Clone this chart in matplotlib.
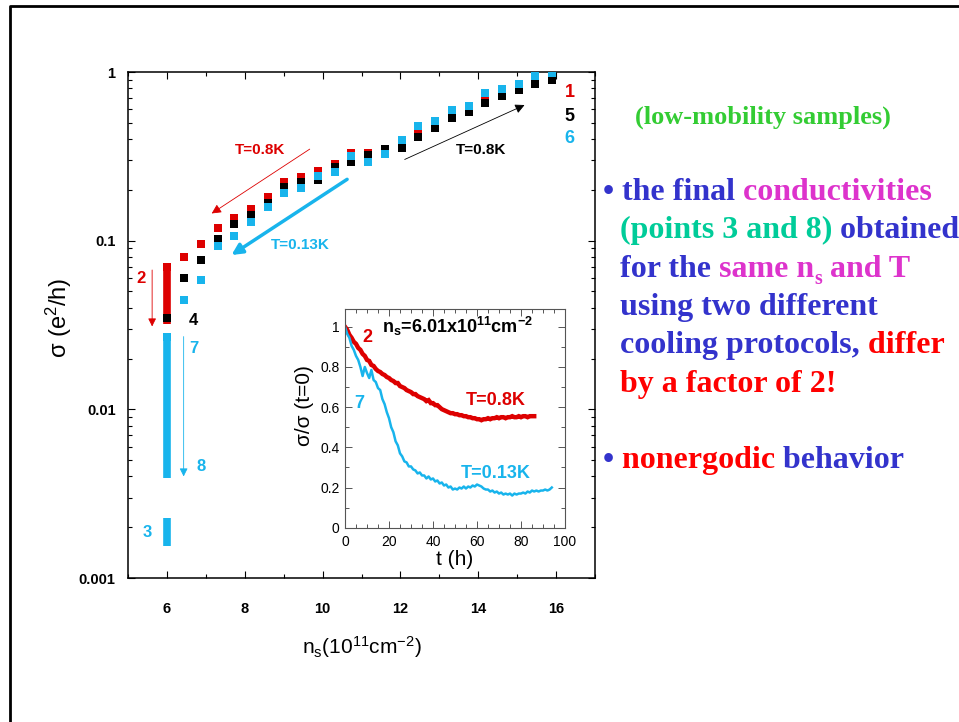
import matplotlib
matplotlib.use('Agg')
import matplotlib.pyplot as plt
from matplotlib.ticker import MultipleLocator, LogLocator, NullFormatter, FixedLocator, FixedFormatter

plt.rcParams['font.family'] = 'Liberation Sans'
plt.rcParams['mathtext.fontset'] = 'custom'
plt.rcParams['mathtext.rm'] = 'Liberation Sans'
plt.rcParams['mathtext.it'] = 'Liberation Sans:italic'
plt.rcParams['mathtext.bf'] = 'Liberation Sans:bold'

W, H = 959, 722

# main panel: sigma vs n_s for the three sweeps
ns = [6.01, 6.44, 6.87, 7.30, 7.73, 8.16, 8.59, 9.02, 9.45, 9.88, 10.31, 10.74,
      11.17, 11.60, 12.03, 12.46, 12.89, 13.32, 13.75, 14.18, 14.61, 15.04, 15.47, 15.90]
sigma_1 = [0.070, 0.080, 0.096, 0.119, 0.136, 0.155, 0.181, 0.222, 0.239, 0.260, 0.284, 0.330,
           0.330, 0.350, 0.370, 0.443, 0.490, 0.556, 0.600, 0.692, 0.750, 0.810, 0.900, 0.950]
sigma_5 = [0.035, 0.0598, 0.0768, 0.103, 0.1255, 0.142, 0.168, 0.207, 0.224, 0.229, 0.275, 0.294,
           0.322, 0.350, 0.356, 0.414, 0.468, 0.531, 0.582, 0.658, 0.724, 0.782, 0.849, 0.897]
sigma_6 = [0.027, 0.0445, 0.0585, 0.093, 0.1066, 0.129, 0.158, 0.193, 0.206, 0.243, 0.254, 0.318,
           0.291, 0.325, 0.395, 0.478, 0.512, 0.595, 0.629, 0.754, 0.789, 0.849, 0.947, 0.990]

# relaxation at n_s = 6.01
bar_ns = 6.01
bar_2_4 = [0.070, 0.032]
bar_7_8 = [0.027, 0.0039]
bar_3 = [0.00227, 0.00155]

# inset: sigma/sigma(t=0) vs t (h)
ratio_08K = [1.00, 0.985, 0.96, 0.945, 0.925, 0.915, 0.895, 0.885, 0.865, 0.855, 0.835, 0.83,
             0.81, 0.805, 0.79, 0.78, 0.775, 0.765, 0.76, 0.75, 0.745, 0.735, 0.73, 0.72, 0.72,
             0.705, 0.70, 0.695, 0.685, 0.68, 0.675, 0.665, 0.665, 0.655, 0.65, 0.645, 0.64,
             0.63, 0.635, 0.62, 0.62, 0.61, 0.61, 0.60, 0.59, 0.585, 0.58, 0.575, 0.57, 0.57,
             0.565, 0.565, 0.56, 0.56, 0.555, 0.555, 0.55, 0.55, 0.545, 0.545, 0.54, 0.54, 0.535,
             0.54, 0.54, 0.545, 0.54, 0.545, 0.545, 0.55, 0.545, 0.55, 0.55, 0.545, 0.55, 0.55,
             0.555, 0.55, 0.55, 0.555, 0.55, 0.555, 0.555, 0.55, 0.555, 0.555, 0.555]
ratio_013K = [1.00, 0.965, 0.945, 0.905, 0.885, 0.855, 0.835, 0.80, 0.755, 0.80, 0.77, 0.745,
              0.785, 0.735, 0.725, 0.695, 0.685, 0.64, 0.615, 0.575, 0.545, 0.50, 0.475, 0.43,
              0.41, 0.37, 0.355, 0.33, 0.325, 0.305, 0.305, 0.29, 0.285, 0.27, 0.275, 0.26, 0.26,
              0.245, 0.255, 0.24, 0.245, 0.23, 0.235, 0.22, 0.225, 0.21, 0.215, 0.20, 0.205, 0.19,
              0.195, 0.19, 0.20, 0.195, 0.205, 0.195, 0.205, 0.20, 0.21, 0.205, 0.215, 0.21, 0.205,
              0.195, 0.19, 0.19, 0.18, 0.185, 0.175, 0.18, 0.17, 0.175, 0.165, 0.17, 0.165, 0.17,
              0.16, 0.17, 0.165, 0.17, 0.17, 0.175, 0.17, 0.18, 0.175, 0.185, 0.18, 0.185, 0.18,
              0.185, 0.185, 0.19, 0.185, 0.19, 0.20]
t_08K = list(range(len(ratio_08K)))
t_013K = list(range(len(ratio_013K)))

RED = '#dd0000'
CYAN = '#18b4ec'

fig = plt.figure(figsize=(W / 100, H / 100), dpi=100)

# background axes for the slide frame and the text on the right
bg = fig.add_axes([0, 0, 1, 1], zorder=-1)
bg.set_xlim(0, 1)
bg.set_ylim(0, 1)
bg.axis('off')
bg.plot([10 / W, 10 / W, 1], [0, 1 - 6 / H, 1 - 6 / H], color='black', lw=2, clip_on=False)

ax = fig.add_axes([128 / W, 1 - 578 / H, 467 / W, 506 / H])
ax.set_yscale('log')
ax.set_xlim(5, 17)
ax.set_ylim(0.001, 1)

ax.vlines(bar_ns, bar_2_4[1], bar_2_4[0], color=RED, lw=5.5, zorder=2)
ax.vlines(bar_ns, bar_7_8[1], bar_7_8[0], color=CYAN, lw=5.5, zorder=2)
ax.vlines(bar_ns, bar_3[1], bar_3[0], color=CYAN, lw=5.5, zorder=2)

ax.plot(ns, sigma_1, 's', color=RED, ms=5.3, mew=0, zorder=3)
ax.plot(ns, sigma_5, 's', color='black', ms=5.3, mew=0, zorder=3)
ax.plot(ns, sigma_6, 's', color=CYAN, ms=5.3, mew=0, zorder=3)

for s, y, c in [('1', 0.751, RED), ('5', 0.548, 'black'), ('6', 0.401, CYAN)]:
    ax.text(16.35, y, s, color=c, fontsize=13, fontweight='bold', ha='center', va='center')

small = dict(fontsize=12, fontweight='bold', ha='center', va='center')
ax.text(5.33, 0.0593, '2', color=RED, **small)
ax.text(6.68, 0.0335, '4', color='black', **small)
ax.text(6.70, 0.023, '7', color=CYAN, **small)
ax.text(6.87, 0.0046, '8', color=CYAN, **small)
ax.text(5.50, 0.00186, '3', color=CYAN, **small)

lab = dict(fontsize=11, fontweight='bold', ha='center', va='center')
ax.text(8.39, 0.345, 'T=0.8K', color=RED, **lab)
ax.text(14.08, 0.345, 'T=0.8K', color='black', **lab)
ax.text(9.42, 0.0942, 'T=0.13K', color=CYAN, **lab)

def arrow(x0, y0, x1, y1, color, lw, scale):
    ax.annotate('', xy=(x1, y1), xytext=(x0, y0),
                arrowprops=dict(arrowstyle='-|>', color=color, lw=lw,
                                mutation_scale=scale, shrinkA=0, shrinkB=0))

arrow(9.67, 0.349, 7.15, 0.145, RED, 0.6, 14)
arrow(12.11, 0.303, 15.19, 0.637, 'black', 0.6, 14)
arrow(10.63, 0.231, 7.66, 0.0822, CYAN, 2.5, 16)
arrow(5.62, 0.067, 5.62, 0.031, RED, 0.6, 12)
arrow(6.43, 0.027, 6.43, 0.0040, CYAN, 0.6, 12)

ax.xaxis.set_major_locator(MultipleLocator(2))
ax.xaxis.set_minor_locator(MultipleLocator(1))
ax.yaxis.set_major_locator(FixedLocator([0.001, 0.01, 0.1, 1]))
ax.yaxis.set_major_formatter(FixedFormatter(['0.001', '0.01', '0.1', '1']))
ax.yaxis.set_minor_locator(LogLocator(base=10, subs=range(2, 10)))
ax.yaxis.set_minor_formatter(NullFormatter())
ax.tick_params(which='both', direction='in', top=True, right=True, width=0.8)
ax.tick_params(which='major', length=5)
ax.tick_params(which='minor', length=3)
ax.tick_params(axis='y', pad=9, labelsize=10.5)
ax.tick_params(axis='x', pad=17, labelsize=10.5)
for lbl in ax.get_xticklabels() + ax.get_yticklabels():
    lbl.set_fontweight('bold')
for sp in ax.spines.values():
    sp.set_linewidth(1.1)

ax.set_xlabel(r'n$_\mathregular{s}$(10$^{11}$cm$^{-2}$)', fontsize=15)
ax.set_ylabel(r'σ (e$^2$/h)', fontsize=17)
ax.xaxis.set_label_coords(0.5, -0.11)
ax.yaxis.set_label_coords(-0.115, 0.515)

# inset
ins = fig.add_axes([345 / W, 1 - 527.7 / H, 220 / W, 219 / H])
ins.plot(t_08K, ratio_08K, color=RED, lw=3.2, solid_joinstyle='miter')
ins.plot(t_013K, ratio_013K, color=CYAN, lw=1.8)
ins.set_xlim(0, 100)
ins.set_ylim(0, 1.09)
ins.xaxis.set_major_locator(MultipleLocator(20))
ins.xaxis.set_minor_locator(MultipleLocator(5))
ins.yaxis.set_major_locator(MultipleLocator(0.2))
ins.yaxis.set_minor_locator(MultipleLocator(0.1))
ins.yaxis.set_major_formatter(matplotlib.ticker.FuncFormatter(lambda v, p: '%g' % round(v, 1)))
ins.tick_params(which='both', direction='in', top=True, right=True, width=0.7, color='#555555')
ins.tick_params(which='major', length=5, labelsize=10)
ins.tick_params(which='minor', length=3)
ins.tick_params(axis='y', pad=4)
ins.tick_params(axis='x', pad=5)
for sp in ins.spines.values():
    sp.set_linewidth(0.8)
    sp.set_color('#555555')
ins.set_xlabel('t (h)', fontsize=15)
ins.set_ylabel('σ/σ (t=0)', fontsize=15)
ins.xaxis.set_label_coords(0.5, -0.10)
ins.yaxis.set_label_coords(-0.142, 0.557)

ins.text(51, 1.0, r'n$_\mathbf{s}$=6.01x10$^\mathbf{11}$cm$^\mathbf{-2}$', fontsize=13,
         fontweight='bold', ha='center', va='center')
ins.text(10.3, 0.948, '2', color=RED, fontsize=13, fontweight='bold', ha='center', va='center')
ins.text(6.5, 0.62, '7', color=CYAN, fontsize=13, fontweight='bold', ha='center', va='center')
ins.text(68.3, 0.633, 'T=0.8K', color=RED, fontsize=13, fontweight='bold', ha='center', va='center')
ins.text(68.6, 0.271, 'T=0.13K', color=CYAN, fontsize=13, fontweight='bold', ha='center', va='center')

# text on the right side of the slide
BLUE = '#3333cc'
MAG = '#dd33cc'
TEAL = '#00cc99'
TRED = '#ff0000'
GREEN = '#33cc33'
serif = dict(fontfamily='Liberation Serif', fontweight='bold')


def text_line(x_px, y_px, parts, size=23):
    prev = None
    lift = 0
    for part in parts:
        s, color = part[0], part[1]
        if prev is None:
            prev = bg.text(x_px / W, 1 - y_px / H, s, color=color, fontsize=size,
                           va='baseline', ha='left', **serif)
            continue
        if len(part) > 2:
            prev = bg.annotate(s, xy=(1, 0), xycoords=prev, xytext=(0, -4),
                               textcoords='offset points', color=color,
                               fontsize=size * 0.62, va='bottom', ha='left', **serif)
            lift = 4
        else:
            prev = bg.annotate(s, xy=(1, 0), xycoords=prev, xytext=(0, lift),
                               textcoords='offset points', color=color,
                               fontsize=size, va='bottom', ha='left', **serif)
            lift = 0


text_line(635, 124, [('(low-mobility samples)', GREEN)], size=19)
text_line(603, 200, [('•', BLUE), (' the final', BLUE), (' conductivities', MAG)])
text_line(620, 238.3, [('(points 3 and 8)', TEAL), (' obtained', BLUE)])
text_line(620, 276.7, [('for the', BLUE), (' same n', MAG), ('s', MAG, 'sub'), (' and T', MAG)])
text_line(620, 315, [('using two different', BLUE)])
text_line(620, 353, [('cooling protocols,', BLUE), (' differ', TRED)])
text_line(620, 391.7, [('by a factor of 2!', TRED)])
text_line(603, 468.3, [('•', BLUE), (' nonergodic', TRED), (' behavior', BLUE)])

fig.savefig('out.png', dpi=100)
